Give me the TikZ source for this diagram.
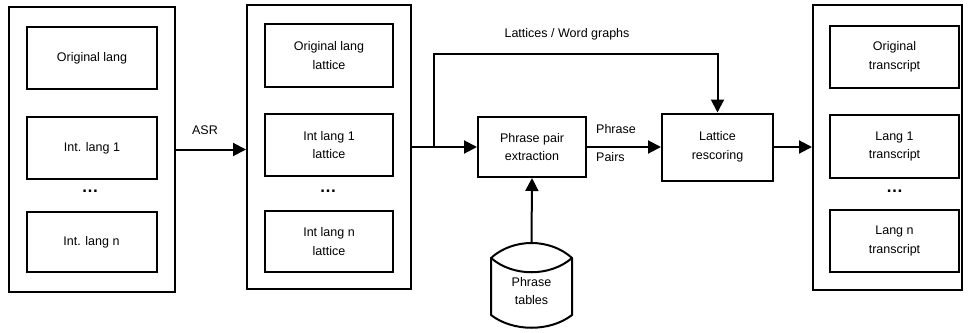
\documentclass[tikz,border=0pt]{standalone}
\usepackage{fontspec}
\setmainfont{Liberation Sans}
\usetikzlibrary{arrows.meta}

\tikzset{
  frame/.style={draw, line width=2pt, inner sep=0pt},
  item/.style={draw, line width=2pt, minimum width=130pt, minimum height=62pt,
               align=center, inner sep=0pt},
  stage/.style={draw, line width=2pt, align=center, inner sep=0pt},
  txt/.style={inner sep=0pt, align=center},
  dots/.style={inner sep=0pt, font=\fontsize{17}{17}\selectfont\bfseries},
  arr/.style={line width=2pt, -{Triangle[length=13pt,width=13pt]}},
  wire/.style={line width=2pt, line join=round},
}

\begin{document}
\begin{tikzpicture}[x=1pt,y=-1pt,font=\fontsize{12.5}{18.5}\selectfont]
\useasboundingbox (0,0) rectangle (968,332);

% audio inputs
\node[frame, minimum width=166pt, minimum height=285pt] (inp) at (92,149.5) {};
\node[item] (inO) at (92,58) {Original lang};
\node[item] (in1) at (92,148) {Int. lang 1};
\node[dots, anchor=base] (inD) at (90,192) {…};
\node[item, minimum height=60pt] (inN) at (91.5,242) {Int. lang n};

% recognised lattices
\node[frame, minimum width=164pt, minimum height=284pt] (lat) at (329,147) {};
\node[item, minimum width=128pt, minimum height=63pt] (latO) at (329,55.5) {Original lang\\lattice};
\node[item, minimum width=128pt] (lat1) at (329,145) {Int lang 1\\lattice};
\node[dots, anchor=base] (latD) at (328,192) {…};
\node[item, minimum width=128pt, minimum height=61pt] (latN) at (329,241.5) {Int lang n\\lattice};

% rescored transcripts
\node[frame, minimum width=149pt, minimum height=285pt] (out) at (887.5,147.5) {};
\node[item, minimum width=129pt] (outO) at (894.5,57) {Original\\transcript};
\node[item, minimum width=129pt, minimum height=63pt] (out1) at (894.5,146.5) {Lang 1\\transcript};
\node[dots, anchor=base] (outD) at (894.5,192) {…};
\node[item, minimum width=129pt] (outN) at (894.5,241) {Lang n\\transcript};

% processing stages
\node[stage, minimum width=108pt, minimum height=60pt] (ppe) at (532,147) {Phrase pair\\extraction};
\node[stage, minimum width=111pt, minimum height=67pt] (lr) at (717.5,147) {Lattice\\rescoring};

% phrase table store (cylinder with a lens-shaped lid)
\draw[wire] (491,258) .. controls (513,238) and (550,238) .. (572,258)
  .. controls (550,277) and (513,277) .. (491,258) -- cycle;
\draw[wire] (491,258) -- (491,315)
  .. controls (513,332) and (550,332) .. (572,315) -- (572,258);
\node[txt] (pt) at (531.5,291) {Phrase\\tables};
\coordinate (ptTop) at (531.5,243);

% connectors
\draw[arr] (inp.east) -- (lat.west |- inp.east);
\node[txt] (asr) at (205,130) {ASR};

\draw[arr] (lat.east) -- (ppe.west);
\coordinate (split) at (434,147);
\coordinate (bend) at (434,54);
\draw[arr] (split) -- (bend) -| (lr.north);
\node[txt] (lw) at (567,34) {Lattices / Word graphs};

\draw[arr] (ppe.east) -- (lr.west);
\node[txt, anchor=west] (pp1) at (596,129) {Phrase};
\node[txt, anchor=west] (pp2) at (596,157) {Pairs};

\draw[arr] (lr.east) -- (out.west |- lr.east);
\draw[arr] (ptTop) -- (ppe.south);
\end{tikzpicture}
\end{document}
